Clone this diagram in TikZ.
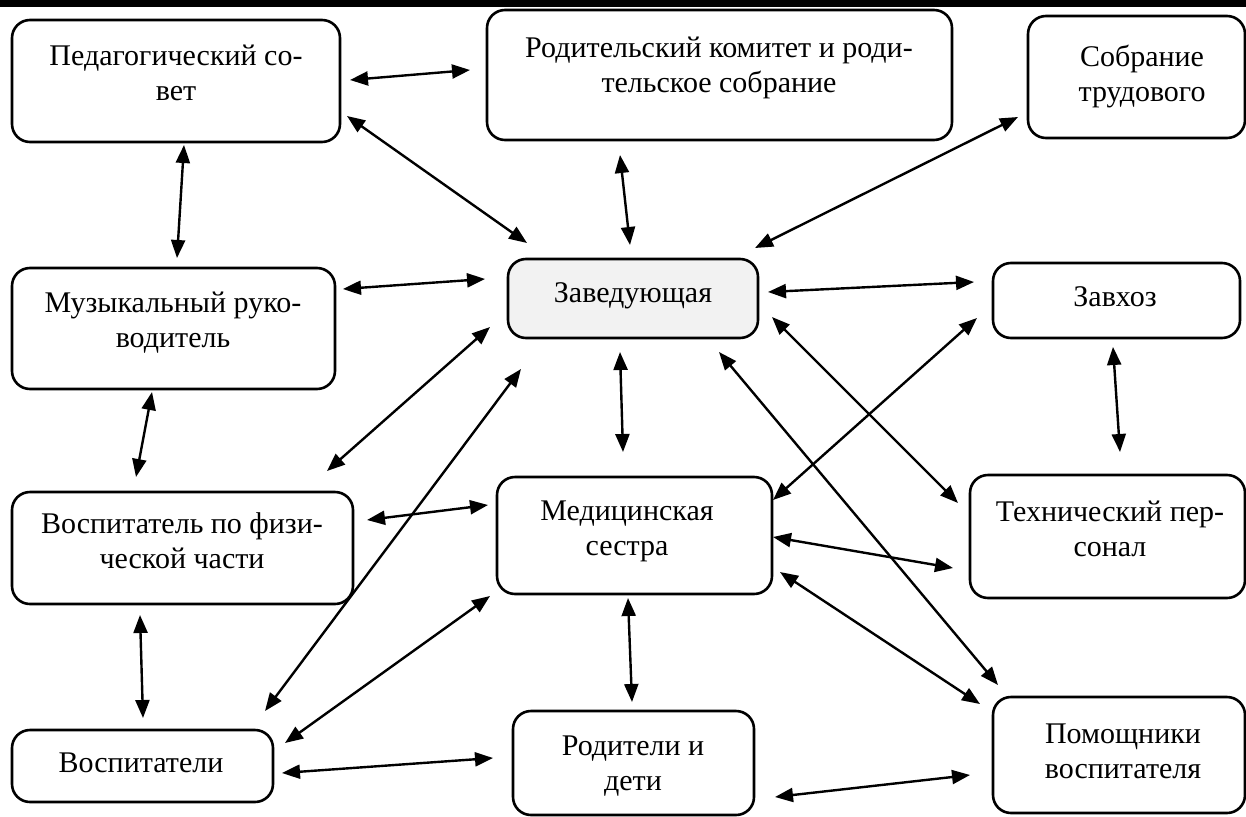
\documentclass[tikz,border=0pt]{standalone}
\usepackage{fontspec}
\setmainfont{Liberation Serif}
\usetikzlibrary{arrows.meta}
\begin{document}
\begin{tikzpicture}[x=1pt,y=-1pt,
  box/.style={draw, line width=2.6pt, rounded corners=18pt, anchor=north west, inner sep=0pt, outer sep=0pt},
  lbl/.style={font=\fontsize{30}{35}\selectfont, align=center, anchor=base, inner sep=0pt},
  arr/.style={{Triangle[length=18pt,width=14pt]}-{Triangle[length=18pt,width=14pt]}, line width=2.4pt}]
\useasboundingbox (0,0) rectangle (1246,816);
\fill (0,0) rectangle (1246,7);
% boxes
\node[box, minimum width=328pt, minimum height=122pt] (ped) at (12,20) {};
\node[box, minimum width=465pt, minimum height=130pt] (rod) at (487,10) {};
\node[box, minimum width=217pt, minimum height=122pt] (sobr) at (1028,16) {};
\node[box, minimum width=250pt, minimum height=79pt, fill={rgb,255:red,242;green,242;blue,242}] (zav) at (508,259) {};
\node[box, minimum width=247pt, minimum height=75pt] (zavhoz) at (993,263) {};
\node[box, minimum width=323pt, minimum height=121pt] (muz) at (12,268) {};
\node[box, minimum width=341pt, minimum height=112pt] (fiz) at (12,492) {};
\node[box, minimum width=275pt, minimum height=117pt] (med) at (497,477) {};
\node[box, minimum width=275pt, minimum height=123pt] (tech) at (970,475) {};
\node[box, minimum width=261pt, minimum height=72pt] (vosp) at (12,730) {};
\node[box, minimum width=241pt, minimum height=104pt] (rodit) at (513,711) {};
\node[box, minimum width=252pt, minimum height=116pt] (pom) at (993,697) {};
% texts (base = baseline of the last line)
\node[lbl] (pedT) at (176,100) {Педагогический со-\\вет};
\node[lbl] (rodT) at (719,92) {Родительский комитет и роди-\\тельское собрание};
\node[lbl] (sobrT) at (1142,101) {Собрание\\трудового};
\node[lbl] (zavT) at (633,302) {Заведующая};
\node[lbl] (zavhozT) at (1115,306) {Завхоз};
\node[lbl] (muzT) at (173,347) {Музыкальный руко-\\водитель};
\node[lbl] (fizT) at (182,568) {Воспитатель по физи-\\ческой части};
\node[lbl] (medT) at (627,555) {Медицинская\\сестра};
\node[lbl] (techT) at (1110,556) {Технический пер-\\сонал};
\node[lbl] (vospT) at (141,772) {Воспитатели};
\node[lbl] (roditT) at (633,790) {Родители и\\дети};
\node[lbl] (pomT) at (1123,778) {Помощники\\воспитателя};
% connectors
\draw[arr] ([shift={(338,60)}]ped.north west) -- ([shift={(-17,60)}]rod.north west);
\draw[arr] ([shift={(335,96)}]ped.north west) -- ([shift={(19,-16)}]zav.north west);
\draw[arr] ([shift={(172,125)}]ped.north west) -- ([shift={(165,-10)}]muz.north west);
\draw[arr] ([shift={(133,145)}]rod.north west) -- ([shift={(122,-14)}]zav.north west);
\draw[arr] ([shift={(-10,101)}]sobr.north west) -- ([shift={(247,-11)}]zav.north west);
\draw[arr] ([shift={(331,21)}]muz.north west) -- ([shift={(-23,20)}]zav.north west);
\draw[arr] ([shift={(260,33)}]zav.north west) -- ([shift={(-19,19)}]zavhoz.north west);
\draw[arr] ([shift={(140,124)}]muz.north west) -- ([shift={(124,-15)}]fiz.north west);
\draw[arr] ([shift={(-18,68)}]zav.north west) -- ([shift={(315,-21)}]fiz.north west);
\draw[arr] ([shift={(13,110)}]zav.north west) -- ([shift={(253,-19)}]vosp.north west);
\draw[arr] ([shift={(112,93)}]zav.north west) -- ([shift={(126,-25)}]med.north west);
\draw[arr] ([shift={(-16,55)}]zavhoz.north west) -- ([shift={(276,23)}]med.north west);
\draw[arr] ([shift={(264,58)}]zav.north west) -- ([shift={(-12,28)}]tech.north west);
\draw[arr] ([shift={(211,93)}]zav.north west) -- ([shift={(5,-12)}]pom.north west);
\draw[arr] ([shift={(120,84)}]zavhoz.north west) -- ([shift={(150,-23)}]tech.north west);
\draw[arr] ([shift={(355,28)}]fiz.north west) -- ([shift={(-9,28)}]med.north west);
\draw[arr] ([shift={(276,60)}]med.north west) -- ([shift={(-17,93)}]tech.north west);
\draw[arr] ([shift={(283,95)}]med.north west) -- ([shift={(-13,7)}]pom.north west);
\draw[arr] ([shift={(128,123)}]fiz.north west) -- ([shift={(131,-12)}]vosp.north west);
\draw[arr] ([shift={(-7,119)}]med.north west) -- ([shift={(273,13)}]vosp.north west);
\draw[arr] ([shift={(131,121)}]med.north west) -- ([shift={(119,-9)}]rodit.north west);
\draw[arr] ([shift={(270,43)}]vosp.north west) -- ([shift={(-20,47)}]rodit.north west);
\draw[arr] ([shift={(262,86)}]rodit.north west) -- ([shift={(-23,78)}]pom.north west);
\end{tikzpicture}
\end{document}
